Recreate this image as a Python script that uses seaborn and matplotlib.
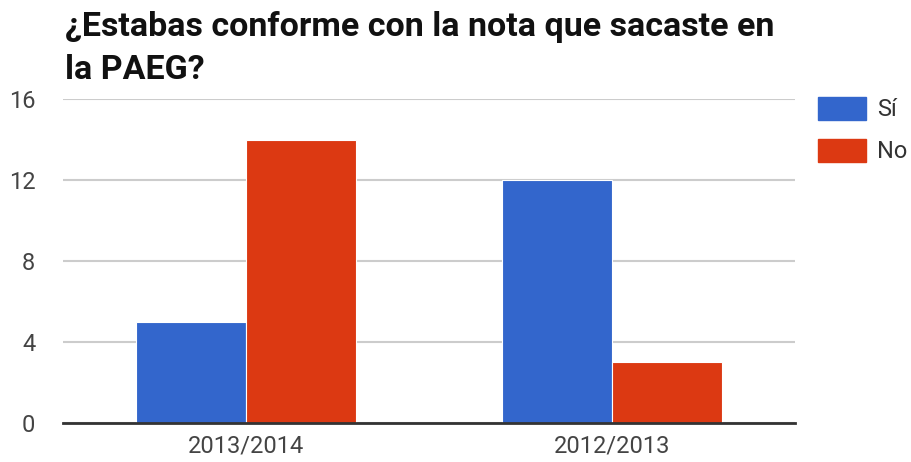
import matplotlib
matplotlib.use("Agg")
import matplotlib.pyplot as plt
from matplotlib.patches import Patch
import seaborn as sns
import pandas as pd

categories = ["2013/2014", "2012/2013"]
series_names = ["Sí", "No"]
si_values = [5, 12]
no_values = [14, 3]
y_ticks = [0, 4, 8, 12, 16]
title = "¿Estabas conforme con la nota que sacaste en\nla PAEG?"
colors = ["#3366CC", "#DC3912"]

df = pd.DataFrame({
    "cat": categories * 2,
    "serie": [series_names[0]] * len(categories) + [series_names[1]] * len(categories),
    "val": si_values + no_values,
})

sns.set_theme(style="white")
plt.rcParams["font.family"] = ["Roboto", "DejaVu Sans"]

fig = plt.figure(figsize=(9.12, 4.62), dpi=100)
ax = fig.add_axes([63 / 912, 1 - 423 / 462, (795 - 63) / 912, (423 - 99) / 462])

sns.barplot(data=df, x="cat", y="val", hue="serie", order=categories,
            hue_order=series_names, palette=colors, width=0.6, gap=0,
            saturation=1, edgecolor="white", linewidth=0.8, ax=ax, legend=False)

ax.set_ylim(0, 16)
ax.set_yticks(y_ticks)
ax.set_xlim(-0.5, 1.5)
ax.yaxis.grid(True, color="#cccccc", linewidth=1.5)
ax.set_axisbelow(True)
for s in ["left", "right", "top"]:
    ax.spines[s].set_visible(False)
ax.spines["bottom"].set_color("#333333")
ax.spines["bottom"].set_linewidth(2)
ax.spines["bottom"].set_zorder(5)
ax.tick_params(axis="both", length=0, labelsize=17, colors="#444444")
ax.tick_params(axis="y", pad=20)
ax.tick_params(axis="x", pad=8)
ax.set_xlabel("")
ax.set_ylabel("")

fig.text(65 / 912, 1 - 11 / 462, title, ha="left", va="top", fontsize=24.5,
         fontweight="bold", color="#111111", linespacing=1.45)

handles = [Patch(facecolor=c, edgecolor=c) for c in colors]
fig.legend(handles, series_names, loc="upper left",
           bbox_to_anchor=(818 / 912, 1 - 97 / 462), frameon=False,
           fontsize=17, handlelength=2.05, handleheight=1.1,
           labelspacing=0.75, handletextpad=0.45, labelcolor="#333333",
           borderaxespad=0, borderpad=0)

fig.savefig("out.png", dpi=100)
